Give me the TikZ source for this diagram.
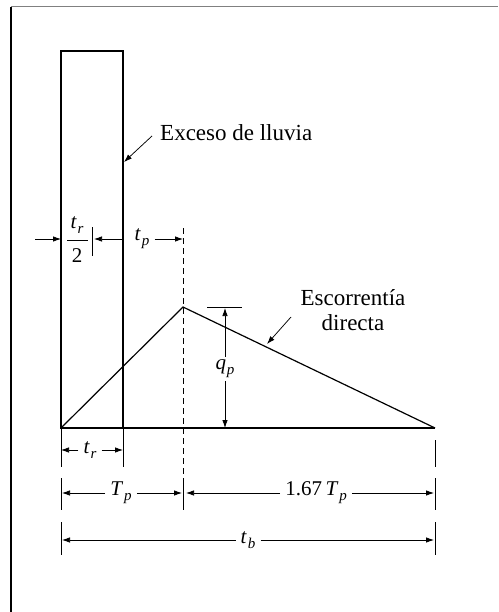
\documentclass[tikz,border=0pt]{standalone}
\usepackage{fontspec}
\setmainfont{Liberation Serif}
\usetikzlibrary{arrows.meta}
\newcommand{\lsub}[2]{\textit{#1}\kern0.04em\raisebox{-0.25em}{\fontsize{15}{15}\selectfont\textit{#2}}}
\begin{document}
\begin{tikzpicture}[x=1pt,y=-1pt,
  tip/.style={line width=0.75pt,-{Latex[length=8pt,width=5.5pt]}},
  main/.style={line width=1.2pt},
  thin/.style={line width=0.75pt},
  lab/.style={font=\fontsize{21}{23}\selectfont, inner sep=5pt},
  txt/.style={font=\fontsize{23}{25}\selectfont, align=center, inner sep=0pt}]
\useasboundingbox (0,0) rectangle (498,612);
% frame
\draw[line width=1.5pt] (11,612) -- (11,7);
\draw[gray, line width=1pt] (11,7) -- (498,7);
% main geometry
\coordinate (O) at (61,428);
\coordinate (R) at (123,428);
\coordinate (P) at (183,307);
\coordinate (E) at (435,428);
\draw[main] (O) rectangle (123,51);
\draw[main] (O) -- (E);
\draw[main] (O) -- (P) -- (E);
\draw[thin, dash pattern=on 6pt off 4pt] (183,228) -- (183,478);
% Exceso de lluvia
\node[txt, anchor=west] (exc) at (160,133) {Exceso de lluvia};
\coordinate (excs) at (152,136);
\coordinate (exct) at (124,162);
\draw[tip] (excs) -- (exct);
% Escorrentia directa
\node[txt] (esc) at (353,310) {Escorrentía\\directa};
\coordinate (escs) at (291,317);
\coordinate (esct) at (267,344);
\draw[tip] (escs) -- (esct);
% t_r/2 and t_p
\node[lab, inner sep=0pt] (trn) at (77,225) {\lsub{t}{r}};
\node[lab, inner sep=0pt] (two) at (77,256) {2};
\coordinate (fl) at (67,240); \coordinate (fr) at (88,240);
\draw[thin] (fl) -- (fr);
\coordinate (b1) at (92,227); \coordinate (b2) at (92,256);
\draw[thin] (b1) -- (b2);
\coordinate (la) at (35,239); \coordinate (lb) at (61,239);
\draw[tip] (la) -- (lb);
\coordinate (ra) at (123,239); \coordinate (rb) at (94,239);
\draw[tip] (ra) -- (rb);
\node[lab] (tp) at (142,239) {\lsub{t}{p}};
\coordinate (tpe) at (183,239);
\draw[tip] (tp.east) -- (tpe);
% q_p
\coordinate (q1) at (207,307); \coordinate (q2) at (242,307);
\draw[thin] (q1) -- (q2);
\node[lab, inner sep=3pt] (qp) at (225,369) {\lsub{q}{p}};
\coordinate (qt) at (225,308); \coordinate (qb) at (225,428);
\draw[tip] (qp.north) -- (qt);
\draw[tip] (qp.south) -- (qb);
% ticks
\foreach \a/\b in {428/467,478/510,522/555}{
  \draw[thin] (61,\a) -- (61,\b);}
\draw[thin] (123,428) -- (123,467);
\draw[thin] (183,478) -- (183,510);
\foreach \a/\b in {440/467,478/510,522/555}{
  \draw[thin] (435,\a) -- (435,\b);}
% t_r row
\node[lab] (tr) at (90,450) {\lsub{t}{r}};
\coordinate (trl) at (61,450); \coordinate (trr) at (123,450);
\draw[tip] (tr.west) -- (trl);
\draw[tip] (tr.east) -- (trr);
% T_p row
\node[lab] (Tp) at (121,493) {\lsub{T}{p}};
\coordinate (Tpl) at (62,493); \coordinate (Tpr) at (182,493);
\draw[tip] (Tp.west) -- (Tpl);
\draw[tip] (Tp.east) -- (Tpr);
\node[lab] (T167) at (316,493) {1.67\,\lsub{T}{p}};
\coordinate (Ll) at (186,493); \coordinate (Lr) at (434,493);
\draw[tip] (T167.west) -- (Ll);
\draw[tip] (T167.east) -- (Lr);
% t_b row
\node[lab] (tb) at (248,540) {\lsub{t}{b}};
\coordinate (tbl) at (62,540); \coordinate (tbr) at (434,540);
\draw[tip] (tb.west) -- (tbl);
\draw[tip] (tb.east) -- (tbr);
\end{tikzpicture}
\end{document}
